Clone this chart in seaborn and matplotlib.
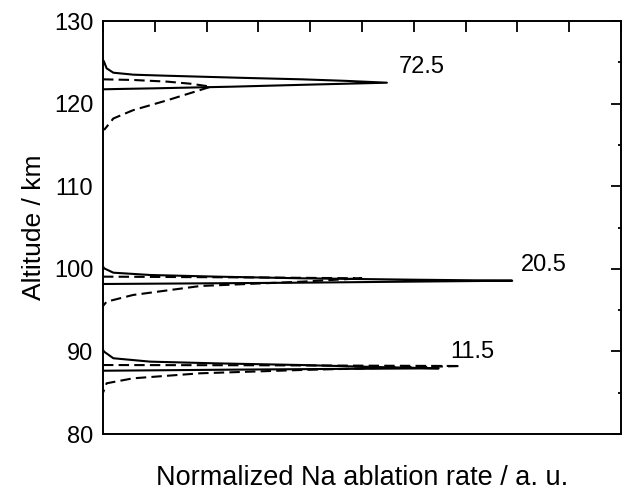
import matplotlib
matplotlib.use("Agg")
import matplotlib.pyplot as plt
from matplotlib.ticker import MultipleLocator, NullFormatter
import seaborn as sns
import pandas as pd

# Profiles as (rate, altitude) paths: upper branch -> peak -> lower branch
# Peak 1 (72.5)
p1_solid_x = [0.0, 0.02, 0.07, 0.2, 0.59, 1.2, 1.88, 2.8, 3.83, 4.7, 5.48, 4.0, 2.5, 1.0, 0.3, 0.0]
p1_solid_alt = [125.3, 125.07, 124.27, 123.74, 123.5, 123.38, 123.26, 123.1, 122.94, 122.75, 122.53,
                122.3, 122.05, 121.85, 121.77, 121.73]
p1_dash_x = [0.0, 0.58, 1.24, 1.7, 2.08, 1.88, 1.24, 0.58, 0.2, 0.02]
p1_dash_alt = [122.94, 122.86, 122.66, 122.4, 122.05, 121.65, 120.4, 119.2, 118.2, 116.8]

# Peak 2 (20.5)
p2_solid_x = [0.0, 0.02, 0.2, 0.91, 2.2, 3.83, 6.0, 7.9, 6.0, 3.83, 1.5, 0.0]
p2_solid_alt = [100.3, 100.06, 99.53, 99.25, 99.05, 98.85, 98.68, 98.56, 98.45, 98.32, 98.22, 98.16]
p2_dash_x = [0.0, 1.5, 3.0, 4.99, 3.83, 1.88, 0.58, 0.07, 0.0]
p2_dash_alt = [99.05, 99.0, 98.95, 98.85, 98.44, 97.92, 96.83, 96.02, 95.5]

# Peak 3 (11.5)
p3_solid_x = [0.0, 0.02, 0.2, 0.91, 2.2, 3.83, 5.2, 6.48, 4.5, 2.5, 0.8, 0.0]
p3_solid_alt = [90.2, 89.97, 89.17, 88.76, 88.55, 88.35, 88.12, 87.95, 87.88, 87.79, 87.7, 87.66]
p3_dash_x = [0.0, 3.0, 6.9, 3.83, 1.88, 0.58, 0.07, 0.0]
p3_dash_alt = [88.35, 88.32, 88.23, 87.75, 87.35, 86.74, 86.14, 85.0]

peak_labels = ["72.5", "20.5", "11.5"]
label_x = [5.71, 8.06, 6.7]
label_alt = [124.4, 100.5, 89.9]

sns.set_style("white")
plt.rcParams["font.family"] = ["Liberation Sans", "DejaVu Sans"]
plt.rcParams["font.size"] = 17

fig = plt.figure(figsize=(6.24, 4.90), dpi=100)
ax = fig.add_axes([103 / 624, 56 / 490, 518 / 624, 413 / 490])

curves = [
    (p1_solid_x, p1_solid_alt, "-"), (p1_dash_x, p1_dash_alt, "--"),
    (p2_solid_x, p2_solid_alt, "-"), (p2_dash_x, p2_dash_alt, "--"),
    (p3_solid_x, p3_solid_alt, "-"), (p3_dash_x, p3_dash_alt, "--"),
]
for xs, alts, ls in curves:
    df = pd.DataFrame({"rate": xs, "alt": alts})
    sns.lineplot(data=df, x="rate", y="alt", sort=False, estimator=None, ax=ax,
                 color="black", linewidth=1.5, linestyle=ls)
for line in ax.get_lines():
    if line.get_linestyle() == "--":
        line.set_dashes([5, 2.5])

for txt, lx, ly in zip(peak_labels, label_x, label_alt):
    ax.text(lx, ly, txt, ha="left", va="center", fontsize=17, color="black")

ax.set_xlim(0, 10)
ax.set_ylim(80, 130)
ax.xaxis.set_major_locator(MultipleLocator(1))
ax.xaxis.set_major_formatter(NullFormatter())
ax.yaxis.set_major_locator(MultipleLocator(10))
ax.yaxis.set_minor_locator(MultipleLocator(5))

ax.tick_params(axis="both", which="both", direction="in", top=True, right=True,
               width=1.3, color="black", labelcolor="black")
ax.tick_params(axis="x", which="major", length=8)
ax.tick_params(axis="y", which="major", length=7, pad=7, labelsize=17)
ax.tick_params(axis="y", which="minor", length=2.5)
for sp in ax.spines.values():
    sp.set_linewidth(1.4)
    sp.set_color("black")

ax.set_xlabel("Normalized Na ablation rate / a. u.", fontsize=19.5, labelpad=19, color="black")
ax.set_ylabel("Altitude / km", fontsize=19, labelpad=6, color="black")

fig.savefig("out.png", dpi=100)
